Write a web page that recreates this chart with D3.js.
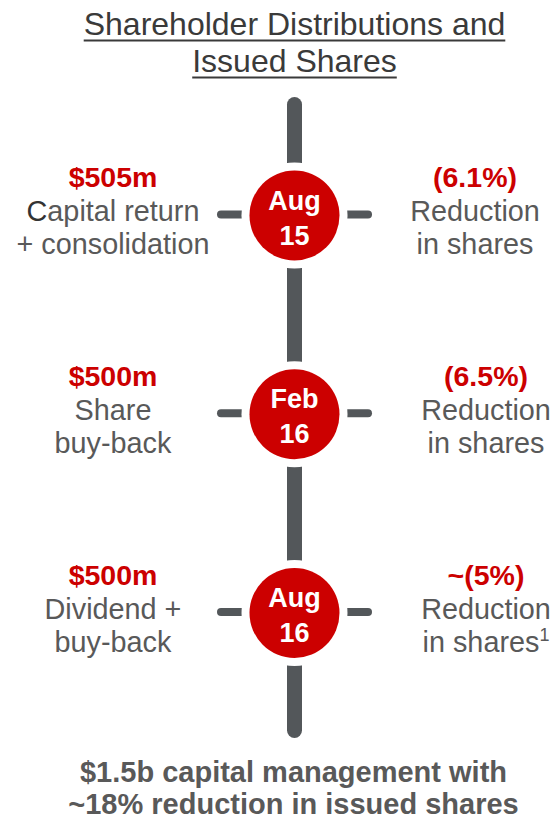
<!DOCTYPE html>
<meta charset="utf-8">
<title>Shareholder Distributions and Issued Shares</title>
<style>
body {
  margin: 0px;
  background: #fff;
}
svg {
  font-family: "Liberation Sans", Arial, sans-serif;
}
.title {
  fill: #3a3a3a;
  font-size: 32px;
}
.amount, .pct {
  fill: #cc0000;
  font-weight: bold;
  font-size: 28.5px;
}
.desc {
  fill: #595959;
  font-size: 28.8px;
}
.date {
  fill: #fff;
  font-weight: bold;
  font-size: 27px;
}
.summary {
  fill: #595959;
  font-weight: bold;
  font-size: 29px;
}
</style>
<script src="https://d3js.org/d3.v7.min.js"></script>
<body>
<script>
var width = 555, height = 818;

// data
var dates = ["Aug 15", "Feb 16", "Aug 16"];
var amounts = ["$505m", "$500m", "$500m"];
var actions = [["Capital return", "+ consolidation"], ["Share", "buy-back"], ["Dividend +", "buy-back"]];
var reductions = ["(6.1%)", "(6.5%)", "~(5%)"];
var reductionText = [["Reduction", "in shares"], ["Reduction", "in shares"], ["Reduction", "in shares"]];
var footnotes = ["", "", "1"];
var titleLines = ["Shareholder Distributions and", "Issued Shares"];
var summaryLines = ["$1.5b capital management with", "~18% reduction in issued shares"];

var cx = 294.5;
var leftX = 113;
var rightX = [475, 486, 486];
var lineCol = "#53575a";
var red = "#cc0000";

var svg = d3.select("body").append("svg")
    .attr("width", width)
    .attr("height", height);

var y = d3.scalePoint()
    .domain(dates)
    .range([215.5, 613]);

// title
var title = svg.append("g");
title.selectAll("text")
    .data(titleLines)
  .enter().append("text")
    .attr("class", "title")
    .attr("x", width / 2 + 17)
    .attr("y", function(d, i) { return 34.5 + i * 37; })
    .attr("text-anchor", "middle")
    .text(function(d) { return d; })
    .each(function(d, i) {
      var bb = this.getBBox();
      title.append("rect")
        .attr("x", bb.x)
        .attr("y", 34.5 + i * 37 + 5)
        .attr("width", bb.width)
        .attr("height", 2)
        .attr("fill", "#3a3a3a");
    });

// spine
svg.append("line")
    .attr("x1", cx).attr("x2", cx)
    .attr("y1", 104.5).attr("y2", 730.5)
    .attr("stroke", lineCol)
    .attr("stroke-width", 15)
    .attr("stroke-linecap", "round");

var rows = svg.selectAll("g.row")
    .data(dates)
  .enter().append("g")
    .attr("class", "row")
    .attr("transform", function(d) { return "translate(0," + y(d) + ")"; });

// ticks
rows.append("line")
    .attr("x1", 221).attr("x2", 368)
    .attr("y1", -1).attr("y2", -1)
    .attr("stroke", lineCol)
    .attr("stroke-width", 8)
    .attr("stroke-linecap", "round");

rows.append("circle")
    .attr("cx", cx).attr("r", 53)
    .attr("fill", "#fff");

rows.append("circle")
    .attr("cx", cx).attr("r", 45)
    .attr("fill", red);

rows.selectAll("text.date")
    .data(function(d) { return d.split(" "); })
  .enter().append("text")
    .attr("class", "date")
    .attr("x", cx)
    .attr("y", function(d, i) { return -6 + i * 35; })
    .attr("text-anchor", "middle")
    .text(function(d) { return d; });

// left side
rows.append("text")
    .attr("class", "amount")
    .attr("x", leftX)
    .attr("y", -28.5)
    .attr("text-anchor", "middle")
    .text(function(d, i) { return amounts[i]; });

rows.each(function(d, i) {
  var g = d3.select(this);
  actions[i].forEach(function(s, j) {
    var t = g.append("text")
      .attr("class", "desc")
      .attr("x", leftX)
      .attr("y", 5.5 + j * 33)
      .attr("text-anchor", "middle");
    if (i == 0 && j == 0) {
      // the first letter is darker in the original slide
      t.append("tspan").attr("fill", "#333").text(s.charAt(0));
      t.append("tspan").text(s.slice(1));
    } else {
      t.text(s);
    }
  });

  g.append("text")
    .attr("class", "pct")
    .attr("x", rightX[i])
    .attr("y", -28.5)
    .attr("text-anchor", "middle")
    .text(reductions[i]);

  reductionText[i].forEach(function(s, j) {
    var t = g.append("text")
      .attr("class", "desc")
      .attr("x", rightX[i])
      .attr("y", 5.5 + j * 33)
      .attr("text-anchor", "middle");
    t.append("tspan").text(s);
    if (j == 1 && footnotes[i]) {
      t.append("tspan")
        .attr("font-size", "18px")
        .attr("dy", -11)
        .text(footnotes[i]);
    }
  });
});

// summary
svg.selectAll("text.summary")
    .data(summaryLines)
  .enter().append("text")
    .attr("class", "summary")
    .attr("x", width / 2 + 16)
    .attr("y", function(d, i) { return 782 + i * 31.5; })
    .attr("text-anchor", "middle")
    .text(function(d) { return d; });
</script>
